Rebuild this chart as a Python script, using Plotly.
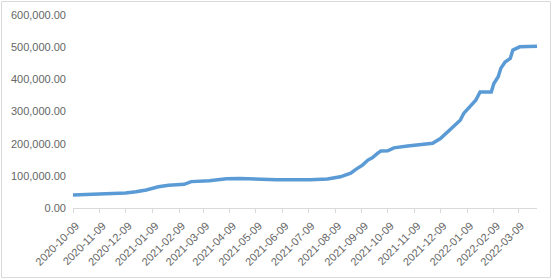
import plotly.graph_objects as go

dates = ["2020-10-09", "2020-11-09", "2020-12-09", "2020-12-21", "2021-01-02", "2021-01-16",
         "2021-01-28", "2021-02-15", "2021-02-23", "2021-03-16", "2021-04-05", "2021-04-20",
         "2021-05-13", "2021-06-02", "2021-07-11", "2021-07-31", "2021-08-15", "2021-08-27",
         "2021-09-02", "2021-09-10", "2021-09-16", "2021-09-21", "2021-09-27", "2021-10-01",
         "2021-10-09", "2021-10-16", "2021-11-01", "2021-11-16", "2021-11-30", "2021-12-09",
         "2021-12-17", "2021-12-24", "2022-01-01", "2022-01-05", "2022-01-13", "2022-01-19",
         "2022-01-24", "2022-02-06", "2022-02-09", "2022-02-14", "2022-02-17", "2022-02-22",
         "2022-02-28", "2022-03-03", "2022-03-11", "2022-03-31"]
values = [40400, 43500, 46600, 50600, 56000, 66000,
          71000, 73500, 82000, 85000, 91000, 92000,
          90000, 88000, 88000, 90000, 97000, 108000,
          120000, 134000, 149000, 156000, 170000, 177000,
          178000, 187000, 193000, 197000, 201000, 216000,
          237000, 252000, 273000, 294000, 317000, 335000,
          361000, 361000, 387000, 408000, 434000, 454000,
          465000, 491000, 501000, 503000]

tick_dates = ["2020-10-09", "2020-11-09", "2020-12-09", "2021-01-09", "2021-02-09", "2021-03-09",
              "2021-04-09", "2021-05-09", "2021-06-09", "2021-07-09", "2021-08-09", "2021-09-09",
              "2021-10-09", "2021-11-09", "2021-12-09", "2022-01-09", "2022-02-09", "2022-03-09"]

fig = go.Figure()
fig.add_trace(go.Scatter(x=dates, y=values, mode="lines",
                         line=dict(color="#5b9bd5", width=3.5), showlegend=False))

W, H = 552, 280
ml, mr, mt, mb = 73, 15, 15, 72
pw, ph = W - ml - mr, H - mt - mb

fig.update_layout(
    width=W, height=H,
    margin=dict(l=ml, r=mr, t=mt, b=mb),
    paper_bgcolor="white", plot_bgcolor="white",
    font=dict(family="Liberation Sans, Arial", size=11, color="#666666"),
    xaxis=dict(type="date", range=["2020-10-09", "2022-03-31"],
               tickvals=tick_dates, ticktext=tick_dates, tickangle=-45,
               showgrid=False, showline=True, linecolor="#d9d9d9", linewidth=1,
               ticks="outside", ticklen=4, tickcolor="#d9d9d9", zeroline=False,
               ticklabelshift=3, ticklabelstandoff=2, automargin=False),
    yaxis=dict(range=[0, 600000], dtick=100000, tickformat=",.2f",
               showgrid=False, zeroline=False, showline=False, ticks="",
               ticklabelstandoff=6, automargin=False),
    shapes=[dict(type="rect", xref="paper", yref="paper",
                 x0=(1.5 - ml) / pw, x1=(550.5 - ml) / pw,
                 y0=(H - mb - 277.5) / ph, y1=(H - mb - 1.5) / ph,
                 line=dict(color="#d9d9d9", width=1), layer="below")],
)

fig.write_html("out.html")
